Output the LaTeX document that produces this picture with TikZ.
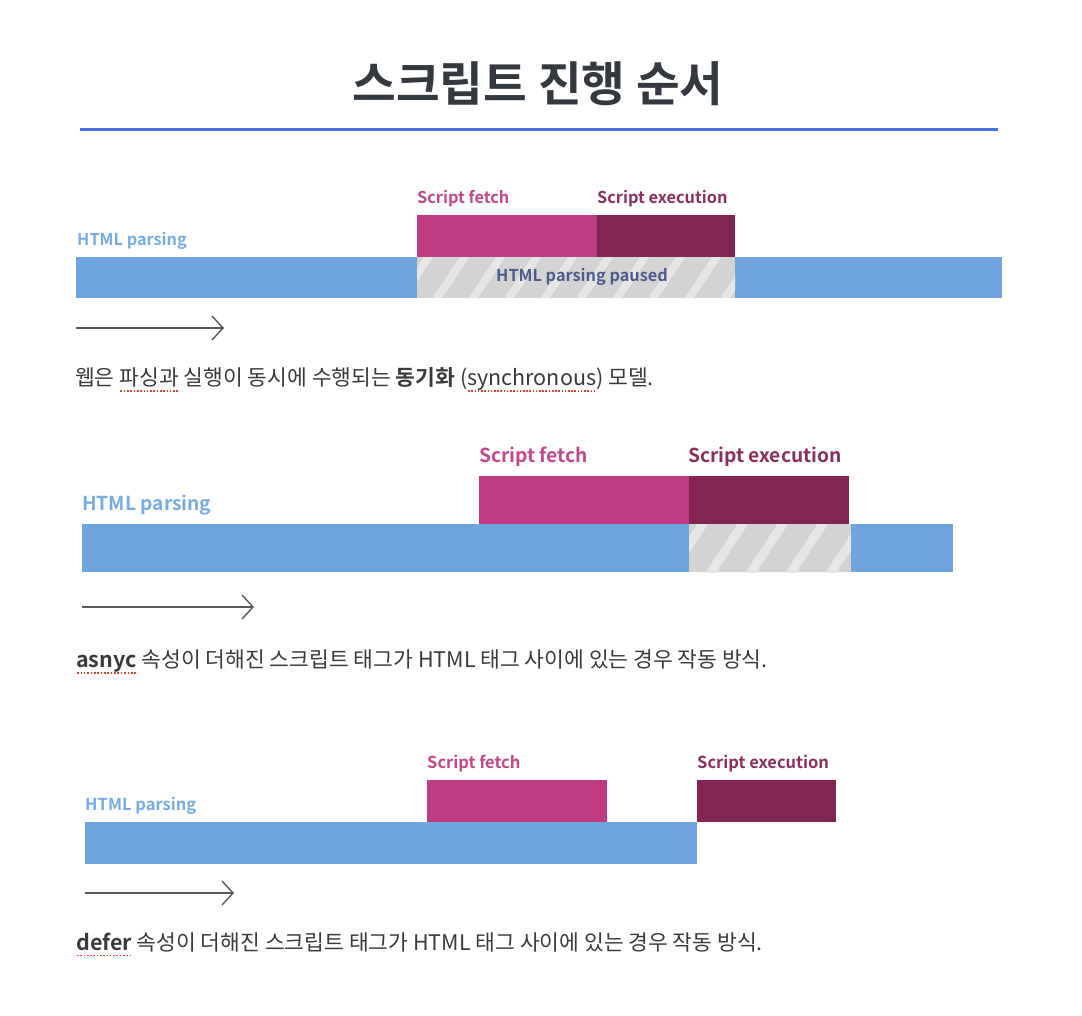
\documentclass[tikz,border=0pt]{standalone}
\usepackage{fontspec}
\setmainfont{Noto Sans CJK KR}[BoldFont={Noto Sans CJK KR Bold}]
\usepackage{tikz}
\usetikzlibrary{arrows.meta}
\definecolor{parse}{HTML}{6FA5DF}
\definecolor{parsetxt}{HTML}{78ACE5}
\definecolor{fetch}{HTML}{BF3C84}
\definecolor{fetchtxt}{HTML}{C4478C}
\definecolor{exec}{HTML}{822454}
\definecolor{exectxt}{HTML}{8A2F5F}
\definecolor{pausebg}{HTML}{D3D3D3}
\definecolor{pausest}{HTML}{E6E6E6}
\definecolor{pausetxt}{HTML}{4F5B8F}
\definecolor{titletxt}{HTML}{33393F}
\definecolor{rulecol}{HTML}{4B73E0}
\definecolor{captxt}{HTML}{3A3A3A}
\definecolor{spell}{HTML}{E0413A}
% red dotted spell-check line
\newsavebox{\spellbox}
\newcommand{\spellline}[1]{\sbox{\spellbox}{#1}\rlap{\textcolor{spell}{\raisebox{-0.3em}[0pt][0pt]{\hbox to \wd\spellbox{\xleaders\hbox to 3.2pt{\hss\rule{1.6pt}{1.6pt}\hss}\hfill}}}}\usebox{\spellbox}}
\begin{document}
\begin{tikzpicture}[x=1pt, y=-1pt,
		lbl/.style={anchor=west, inner sep=0pt, font=\bfseries\fontsize{#1}{#1}\selectfont},
		captext/.style={anchor=west, inner sep=0pt, text=captxt, font=\fontsize{21.5}{24}\selectfont},
		timeline/.style={draw=black!65, line width=1.4pt, -{Straight Barb[length=11pt, width=24pt]}}]
		\useasboundingbox (0,0) rectangle (1082,1016);
		% Titel
		\node[text=titletxt, font=\bfseries\fontsize{47.5}{50}\selectfont] (title) at (538,84) {스크립트 진행 순서};
		\coordinate (ruleL) at (80,130);
		\coordinate (ruleR) at (998,130);
		\draw[rulecol, line width=3pt] (ruleL) -- (ruleR);
		%
		% 1: synchron
		\fill[parse] (76,257) rectangle (417,298);
		\fill[parse] (735,257) rectangle (1002,298);
		\fill[pausebg] (417,257) rectangle (735,298);
		\begin{scope}
			\clip (417,257) rectangle (735,298);
			\foreach \s in {400,436,...,760} \draw[pausest, line width=8pt] (\s,300) -- (\s+30,255);
		\end{scope}
		\fill[fetch] (417,215) rectangle (597,257);
		\fill[exec] (597,215) rectangle (735,257);
		\node[lbl=16.3, text=parsetxt] (parseA) at (77,241) {HTML parsing};
		\node[lbl=16.3, text=fetchtxt] (fetchA) at (417,199) {Script fetch};
		\node[lbl=16.3, text=exectxt] (execA) at (597,199) {Script execution};
		\node[lbl=16.3, text=pausetxt, anchor=center] (pauseA) at (582,277) {HTML parsing paused};
		\coordinate (arrAs) at (76,328);
		\coordinate (arrAe) at (224,328);
		\draw[timeline] (arrAs) -- (arrAe);
		\node[captext] (capA) at (75,379) {웹은 \spellline{파싱과} 실행이 동시에 수행되는 \textbf{동기화} (\spellline{synchronous}) 모델.};
		%
		% 2: async
		\fill[parse] (82,524) rectangle (689,572);
		\fill[parse] (851,524) rectangle (953,572);
		\fill[pausebg] (689,524) rectangle (851,572);
		\begin{scope}
			\clip (689,524) rectangle (851,572);
			\foreach \s in {670,710,...,870} \draw[pausest, line width=9pt] (\s,574) -- (\s+34,522);
		\end{scope}
		\fill[fetch] (479,476) rectangle (689,524);
		\fill[exec] (689,476) rectangle (849,524);
		\node[lbl=19.2, text=parsetxt] (parseB) at (82,505) {HTML parsing};
		\node[lbl=19.2, text=fetchtxt] (fetchB) at (479,457) {Script fetch};
		\node[lbl=19.2, text=exectxt] (execB) at (688,457) {Script execution};
		\coordinate (arrBs) at (82,607);
		\coordinate (arrBe) at (254,607);
		\draw[timeline] (arrBs) -- (arrBe);
		\node[captext] (capB) at (76,661) {\textbf{\spellline{asnyc}} 속성이 더해진 스크립트 태그가 HTML 태그 사이에 있는 경우 작동 방식.};
		%
		% 3: defer
		\fill[parse] (85,822) rectangle (697,864);
		\fill[fetch] (427,780) rectangle (607,822);
		\fill[exec] (697,780) rectangle (836,822);
		\node[lbl=16.5, text=parsetxt] (parseC) at (85,806) {HTML parsing};
		\node[lbl=16.5, text=fetchtxt] (fetchC) at (427,764) {Script fetch};
		\node[lbl=16.5, text=exectxt] (execC) at (697,764) {Script execution};
		\coordinate (arrCs) at (85,893);
		\coordinate (arrCe) at (234,893);
		\draw[timeline] (arrCs) -- (arrCe);
		\node[captext] (capC) at (76,942) {\textbf{\spellline{defer}} 속성이 더해진 스크립트 태그가 HTML 태그 사이에 있는 경우 작동 방식.};
	\end{tikzpicture}
\end{document}
